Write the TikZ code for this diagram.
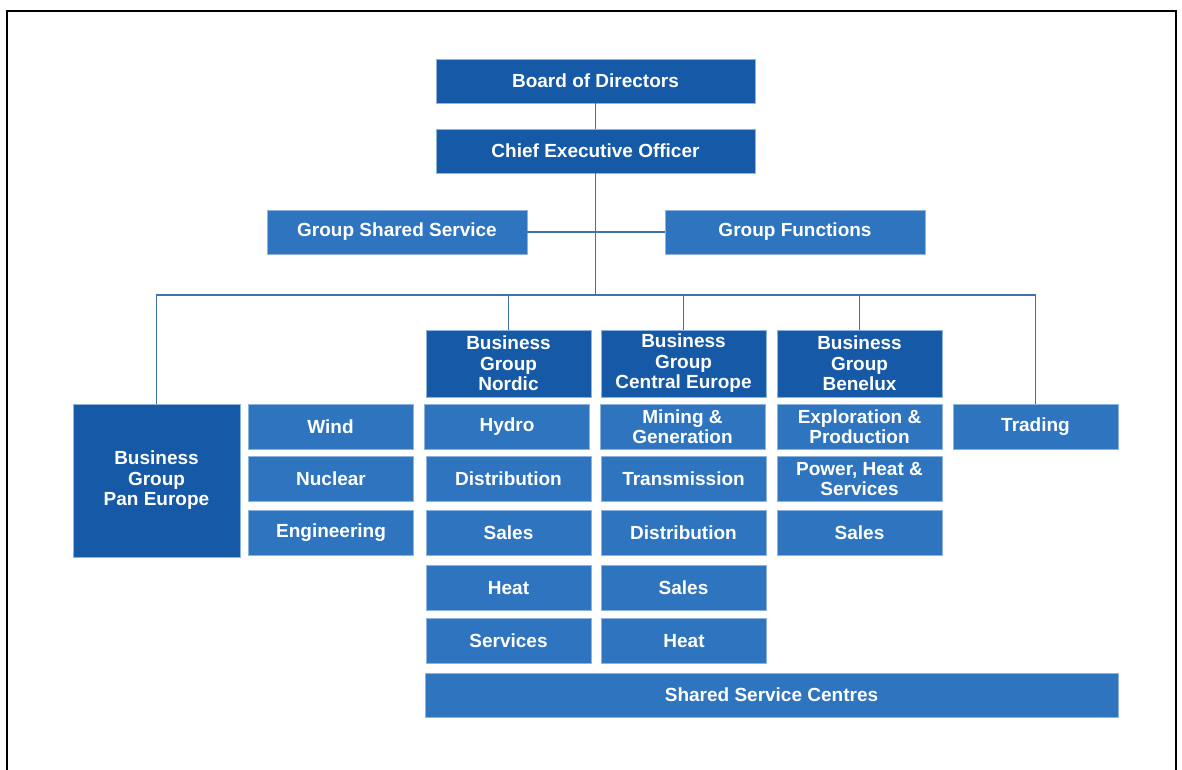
\documentclass[tikz,border=0pt]{standalone}
\usepackage{fontspec}
\setmainfont{Liberation Sans}
\definecolor{darkb}{HTML}{1659A6}
\definecolor{lightb}{HTML}{2E74BF}
\definecolor{edgeb}{HTML}{8DB3DF}
\definecolor{lineb}{HTML}{3C72B4}
\begin{document}
\begin{tikzpicture}[x=1pt,y=-1pt,
  box/.style={draw=edgeb,line width=0.8pt,fill=lightb,text=white,inner sep=0pt,outer sep=0pt,
    align=center,font=\fontsize{19}{20.5}\selectfont\bfseries,minimum width=165pt,minimum height=45pt},
  dbox/.style={box,fill=darkb},
  conn/.style={draw=lineb,line width=1.1pt}]
\useasboundingbox (0,0) rectangle (1182,769);
\fill[white] (0,0) rectangle (1182,769);
\draw[line width=2pt,black] (7,770) -- (7,11) -- (1176,11) -- (1176,770);
% top
\node[dbox,minimum width=319pt,minimum height=44pt] (board) at (595.5,81) {Board of Directors};
\node[dbox,minimum width=319pt,minimum height=44pt] (ceo) at (595.5,151) {Chief Executive Officer};
\node[box,minimum width=260pt,minimum height=44pt] (gss) at (397,232) {Group Shared Service};
\node[box,minimum width=260pt,minimum height=44pt] (gf) at (795,232) {Group Functions};
% business groups
\node[dbox,minimum height=67pt] (nordic) at (508.5,363.5) {Business\\Group\\Nordic};
\node[dbox,minimum height=67pt] (ce) at (683.5,363.5) {Business\\Group\\Central Europe};
\node[dbox,minimum height=67pt] (benelux) at (859.5,363.5) {Business\\Group\\Benelux};
\node[dbox,minimum width=167pt,minimum height=153pt] (pan) at (156.5,480.5) {Business\\Group\\Pan Europe};
% pan europe column
\node[box] (wind) at (330.5,426.5) {Wind};
\node[box] (nuclear) at (331,479) {Nuclear};
\node[box] (eng) at (331,533) {Engineering};
% nordic column
\node[box] (hydro) at (507,426.5) {Hydro};
\node[box] (ndist) at (508.5,479) {Distribution};
\node[box] (nsales) at (508.5,533) {Sales};
\node[box] (nheat) at (508.5,588) {Heat};
\node[box] (nserv) at (508.5,641) {Services};
% central europe column
\node[box] (mining) at (682.5,426.5) {Mining \&\\Generation};
\node[box] (trans) at (683.5,479) {Transmission};
\node[box] (cdist) at (683.5,533) {Distribution};
\node[box] (csales) at (683.5,588) {Sales};
\node[box] (cheat) at (684,641) {Heat};
% benelux column
\node[box] (explo) at (859.5,426.5) {Exploration \&\\Production};
\node[box] (power) at (859.5,479) {Power, Heat \&\\Services};
\node[box] (bsales) at (859.5,533) {Sales};
% trading
\node[box] (trading) at (1035.5,426.5) {Trading};
% shared service centres
\node[box,minimum width=693pt,minimum height=44pt] (ssc) at (771.5,695) {Shared Service Centres};
% connectors
\coordinate (bus) at (595.5,295);
\draw[conn] (board.south) -- (ceo.north);
\draw[conn] (ceo.south) -- (bus);
\draw[conn] (gss.east) -- (gf.west);
\draw[conn] (pan.north) |- (bus) -| (trading.north);
\draw[conn] (nordic.north) -- (nordic.north |- bus);
\draw[conn] (ce.north) -- (ce.north |- bus);
\draw[conn] (benelux.north) -- (benelux.north |- bus);
\end{tikzpicture}
\end{document}
